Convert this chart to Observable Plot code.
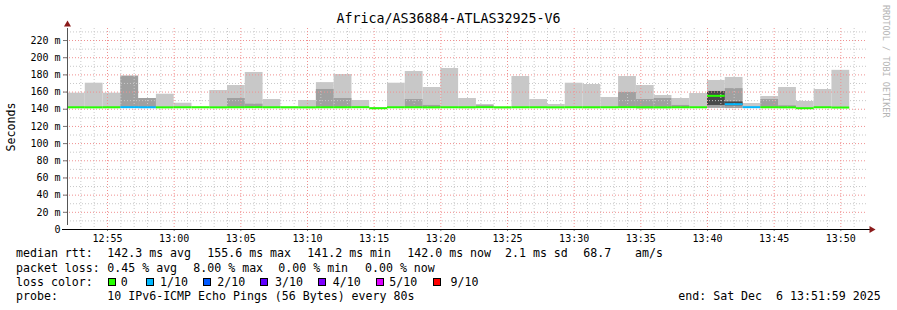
<!DOCTYPE html>
<html><head><meta charset="utf-8">
<script src="https://cdn.jsdelivr.net/npm/d3@7"></script>
<script src="https://cdn.jsdelivr.net/npm/@observablehq/plot@0.6"></script>
<style>
html,body{margin:0;padding:0;background:#fff;}
#wrap{position:relative;width:897px;height:310px;font-family:"DejaVu Sans Mono",monospace;color:#000;overflow:hidden;background:#fff;}
#chart{position:absolute;left:0;top:0;}
.t{position:absolute;white-space:pre;font-size:11.6px;line-height:11.6px;}
.box{position:absolute;width:6px;height:6px;border:1px solid #000;}
#title{position:absolute;left:0;top:12px;width:897px;text-align:center;font-size:13.3px;line-height:13.3px;white-space:pre;}
#ylab{position:absolute;left:11px;top:127px;transform:translate(-50%,-50%) rotate(-90deg);font-size:11.6px;white-space:pre;}
#credit{position:absolute;left:881px;top:5px;writing-mode:vertical-rl;font-size:8.5px;color:#b4b4b4;white-space:pre;}
</style></head><body>
<div id="wrap">
  <div id="chart"></div>
  <div id="title"></div>
  <div id="ylab"></div>
  <div id="credit"></div>
  <div id="legend"></div>
</div>
<script>
// ---- text ----
const titleText = "Africa/AS36884-ATLAS32925-V6";
const yAxisLabel = "Seconds";
const creditText = "RRDTOOL / TOBI OETIKER";

// ---- time grid (80 s steps starting 12:52:00) ----
const startTime = "2025-12-06T12:52:00Z";
const endTime = "2025-12-06T13:52:00Z";
const stepSeconds = 80;

// ---- series (one value per 80 s interval) ----
const medianRtt = [142.3,142.2,142.3,142.4,142.3,142.2,142.3,142.3,142.2,142.3,142.4,142.3,142.3,142.2,142.3,142.3,142.4,141.2,142.3,142.3,142.2,142.3,142.3,142.4,142.2,142.3,142.3,142.2,142.3,142.3,142.3,142.4,142.3,142.2,142.3,142.3,155.6,145.9,142.4,142.3,142.2,141.2,142.3,142.0];
const lossCount = [0,0,0,1,1,0,0,0,0,0,0,0,0,0,0,0,0,0,0,0,0,0,0,0,0,0,0,0,0,0,0,0,0,0,0,0,0,1,1,0,0,0,0,0];
const smokeMax = [158.7,170.3,158.7,178.5,152.5,157.5,147.0,142.6,161.8,167.6,182.8,151.3,142.6,150.2,171.0,180.4,150.2,141.8,170.3,183.9,165.3,187.4,152.5,145.5,142.6,178.1,151.3,145.5,170.3,168.8,153.7,178.1,167.6,156.0,152.5,158.3,173.5,177.0,146.7,154.8,165.3,149.0,163.0,185.3];
const smokeMid = [null,null,null,178.5,152.5,null,null,null,null,152.5,145.9,null,null,null,163.0,152.5,null,null,null,151.3,144.4,null,null,144.0,null,null,null,null,null,null,null,159.5,151.3,152.5,144.4,null,160.7,164.0,null,151.3,144.0,null,null,null];
const smokeMin = [140.6,140.8,140.7,141.2,141.4,141.3,141.5,141.6,141.4,141.2,141.0,141.3,140.6,141.4,141.3,141.2,141.5,140.0,141.3,141.2,141.4,141.3,140.6,141.3,140.6,141.4,141.3,141.5,141.3,140.6,141.4,141.3,140.6,140.8,141.2,141.4,141.1,140.8,141.6,141.3,141.2,140.0,141.1,140.8];
const coreLow  = [null,null,null,null,null,null,null,null,null,null,null,null,null,null,null,null,null,null,null,null,null,null,null,null,null,null,null,null,null,null,null,null,null,null,null,null,144.4,144.0,null,null,null,null,null,null];
const coreHigh = [null,null,null,null,null,null,null,null,null,null,null,null,null,null,null,null,null,null,null,null,null,null,null,null,null,null,null,null,null,null,null,null,null,null,null,null,160.7,148.5,null,null,null,null,null,null];

// ---- axes ----
const yTicks = [0,20,40,60,80,100,120,140,160,180,200,220];
const yMinorGrid = [10,30,50,70,90,110,130,150,170,190,210,230];
const yDomainMax = 234;
const xTickLabels = ["12:55","13:00","13:05","13:10","13:15","13:20","13:25","13:30","13:35","13:40","13:45","13:50"];

// ---- legend ----
const rttStats = ["median rtt:","142.3 ms avg","155.6 ms max","141.2 ms min","142.0 ms now","2.1 ms sd","68.7","am/s"];
const lossStats = ["packet loss:","0.45 % avg","8.00 % max","0.00 % min","0.00 % now"];
const lossLabels = ["0","1/10","2/10","3/10","4/10","5/10","9/10"];
const lossColors = ["#26ff00","#00b8ff","#0059ff","#5e00ff","#7e00ff","#dd00ff","#ff0000"];
const lossColorTitle = "loss color:";
const probeTitle = "probe:";
const probeText = "10 IPv6-ICMP Echo Pings (56 Bytes) every 80s";
const endText = "end: Sat Dec  6 13:51:59 2025";

// ---- build ----
const x0 = new Date(startTime), x1 = new Date(endTime);
const rows = medianRtt.map((m, i) => ({
  t0: new Date(+x0 + i * stepSeconds * 1000),
  t1: new Date(+x0 + (i + 1) * stepSeconds * 1000),
  median: m, lo: smokeMin[i], hi: smokeMax[i], mid: smokeMid[i],
  cLo: coreLow[i], cHi: coreHigh[i], color: lossColors[lossCount[i]]
}));
const day = startTime.slice(0, 11);
const majorTimes = xTickLabels.map(s => new Date(day + s + ":00Z"));
const minorTimes = d3.utcMinute.range(new Date(+x0 + 60000), x1).filter(d => d.getUTCMinutes() % 5 !== 0);
const yMajorGrid = yTicks.filter(v => v > 0);

const chart = Plot.plot({
  width: 897, height: 246,
  marginLeft: 67, marginRight: 30, marginTop: 28, marginBottom: 17,
  style: {fontFamily: "DejaVu Sans Mono", fontSize: "10px", color: "#000", background: "transparent", overflow: "visible"},
  x: {type: "utc", domain: [x0, x1], axis: null},
  y: {domain: [0, yDomainMax], axis: null},
  color: {type: "identity"},
  marks: [
    Plot.rect(rows, {x1: "t0", x2: "t1", y1: "lo", y2: "hi", fill: "#c8c8c8"}),
    Plot.rect(rows.filter(d => d.mid != null), {x1: "t0", x2: "t1", y1: "lo", y2: "mid", fill: "#a0a0a0"}),
    Plot.rect(rows.filter(d => d.cHi != null), {x1: "t0", x2: "t1", y1: "cLo", y2: "cHi", fill: "#484848"}),
    Plot.ruleX(minorTimes, {stroke: "#c8c8c8", strokeDasharray: "1,2"}),
    Plot.ruleY(yMinorGrid, {stroke: "#c8c8c8", strokeDasharray: "1,2"}),
    Plot.ruleX(majorTimes, {stroke: "#f09090", strokeDasharray: "1,2"}),
    Plot.ruleY(yMajorGrid, {stroke: "#f09090", strokeDasharray: "1,2", x1: x0, x2: x1, insetLeft: -4}),
    Plot.ruleY(rows, {x1: "t0", x2: "t1", y: "median", stroke: "color", strokeWidth: 2}),
    Plot.axisY({ticks: yTicks, tickFormat: d => d === 0 ? "0" : d + " m", tickSize: 4, tickPadding: 3, stroke: "#777"}),
    Plot.axisX({ticks: majorTimes, tickFormat: d3.utcFormat("%H:%M"), tickSize: 2, tickPadding: 3, stroke: "#777"}),
    Plot.ruleX([x0], {y1: 0, y2: yDomainMax, stroke: "#555", insetTop: -4}),
    Plot.ruleY([0], {x1: x0, x2: x1, stroke: "#000", insetLeft: -5, insetRight: -3}),
    Plot.dot([{x: x0, y: yDomainMax}], {x: "x", y: "y", symbol: "triangle", r: 2.6, fill: "#8b1a1a", dy: -4}),
    Plot.dot([{x: x1, y: 0}], {x: "x", y: "y", symbol: "triangle", r: 2.6, fill: "#8b1a1a", rotate: 90, dx: 4})
  ]
});
document.getElementById("chart").appendChild(chart);
document.getElementById("title").textContent = titleText;
document.getElementById("ylab").textContent = yAxisLabel;
document.getElementById("credit").textContent = creditText;

// legend layout
const leg = document.getElementById("legend");
function txt(s, left, top) {
  const el = document.createElement("div");
  el.className = "t"; el.textContent = s;
  el.style.left = left + "px"; el.style.top = top + "px";
  leg.appendChild(el);
}
const rowTop = [248.2, 262.5, 276.9, 291.2];
const rttX = [16, 107.3, 207.3, 307.3, 407.3, 505, 583.3, 635];
rttStats.forEach((s, i) => txt(s, rttX[i], rowTop[0]));
const lossX = [16, 107.3, 193.3, 278.3, 365];
lossStats.forEach((s, i) => txt(s, lossX[i], rowTop[1]));
txt(lossColorTitle, 16, rowTop[2]);
const boxX = [108.3, 145.7, 203, 260.3, 318, 375.7, 433];
const labX = [120.7, 160, 217.3, 275, 332.7, 389.3, 450.5];
lossLabels.forEach((s, i) => {
  const b = document.createElement("div");
  b.className = "box"; b.style.left = boxX[i] + "px"; b.style.top = "278px";
  b.style.background = lossColors[i];
  leg.appendChild(b);
  txt(s, labX[i], rowTop[2]);
});
txt(probeTitle, 16, rowTop[3]);
txt(probeText, 107.3, rowTop[3]);
txt(endText, 678.3, rowTop[3]);
</script>
</body></html>
